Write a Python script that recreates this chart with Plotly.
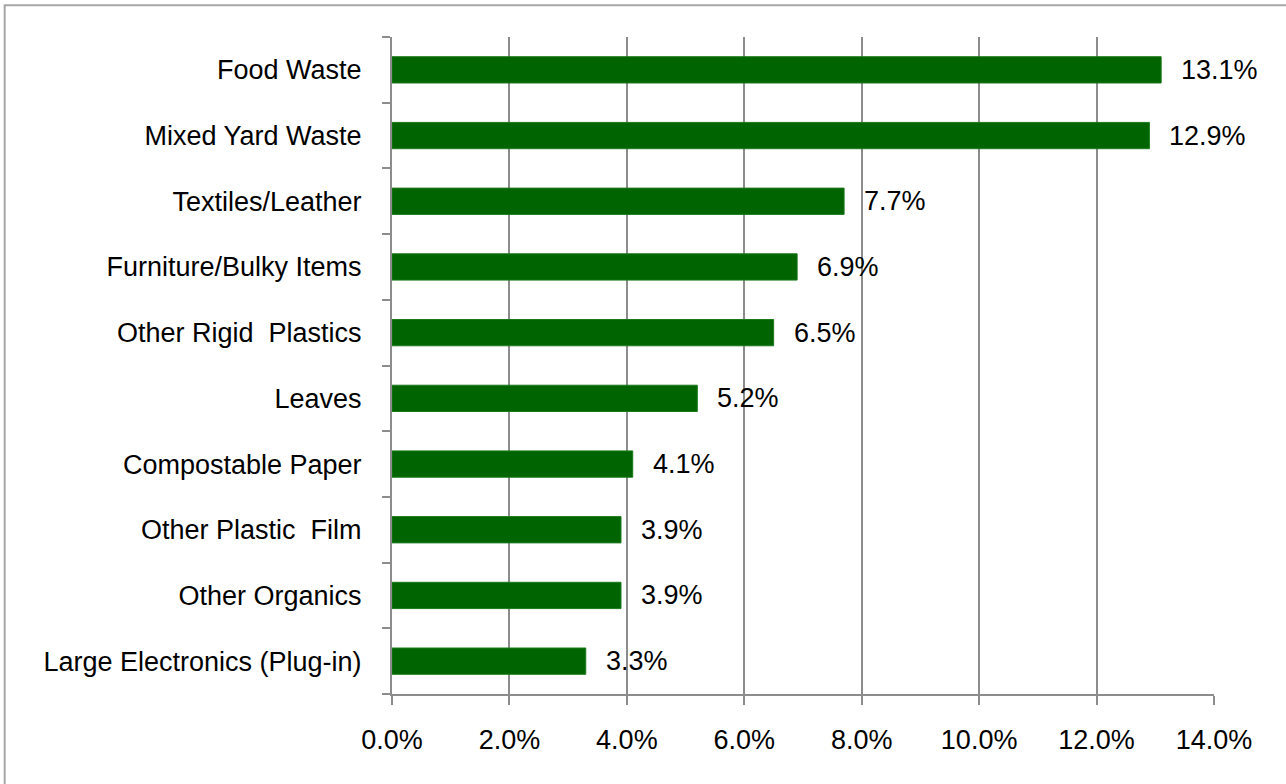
import plotly.graph_objects as go

# Waste categories and their share of the total (percent)
categories = [
    "Food Waste",
    "Mixed Yard Waste",
    "Textiles/Leather",
    "Furniture/Bulky Items",
    "Other Rigid  Plastics",
    "Leaves",
    "Compostable Paper",
    "Other Plastic  Film",
    "Other Organics",
    "Large Electronics (Plug-in)",
]
shares = [13.1, 12.9, 7.7, 6.9, 6.5, 5.2, 4.1, 3.9, 3.9, 3.3]
x_ticks = [0, 2, 4, 6, 8, 10, 12, 14]
x_tick_labels = ["0.0%", "2.0%", "4.0%", "6.0%", "8.0%", "10.0%", "12.0%", "14.0%"]

FONT = "Liberation Sans, Arial, sans-serif"
GRID = "#8c8c8c"

fig = go.Figure(
    go.Bar(
        x=shares,
        y=categories,
        orientation="h",
        marker=dict(color="#006400", line=dict(color="#1a7a1a", width=1)),
        hoverinfo="skip",
    )
)

# value labels just past the end of each bar
for cat, val in zip(categories, shares):
    fig.add_annotation(
        x=val, y=cat, text=f"{val:.1f}%", showarrow=False,
        xanchor="left", yanchor="middle", xshift=18,
        font=dict(family=FONT, size=27, color="#000000"),
    )

# outer chart frame
fig.add_shape(
    type="rect", xref="paper", yref="paper",
    x0=-0.4712, x1=1.1, y0=-0.2, y1=1.0485,
    line=dict(color="#a6a6a6", width=2), layer="below",
)

fig.update_layout(
    width=1286, height=784,
    margin=dict(l=392, r=72, t=37, b=90),
    plot_bgcolor="white", paper_bgcolor="white",
    bargap=0.6,
    showlegend=False,
    font=dict(family=FONT, size=26, color="#000000"),
    xaxis=dict(
        range=[0, 14], tickvals=x_ticks, ticktext=x_tick_labels,
        showgrid=True, gridcolor=GRID, gridwidth=2,
        showline=True, linecolor=GRID, linewidth=2,
        ticks="outside", ticklen=9, tickwidth=2, tickcolor=GRID,
        ticklabelstandoff=12, zeroline=False,
        tickfont=dict(family=FONT, size=27, color="#000000"),
    ),
    yaxis=dict(
        categoryorder="array", categoryarray=categories[::-1],
        range=[-0.5, len(categories) - 0.5],
        showgrid=False, showline=True, linecolor=GRID, linewidth=2,
        ticks="outside", tickson="boundaries", ticklen=8, tickwidth=2, tickcolor=GRID,
        ticklabelstandoff=23,
        tickfont=dict(family=FONT, size=27, color="#000000"),
    ),
)

fig.write_html("out.html")
